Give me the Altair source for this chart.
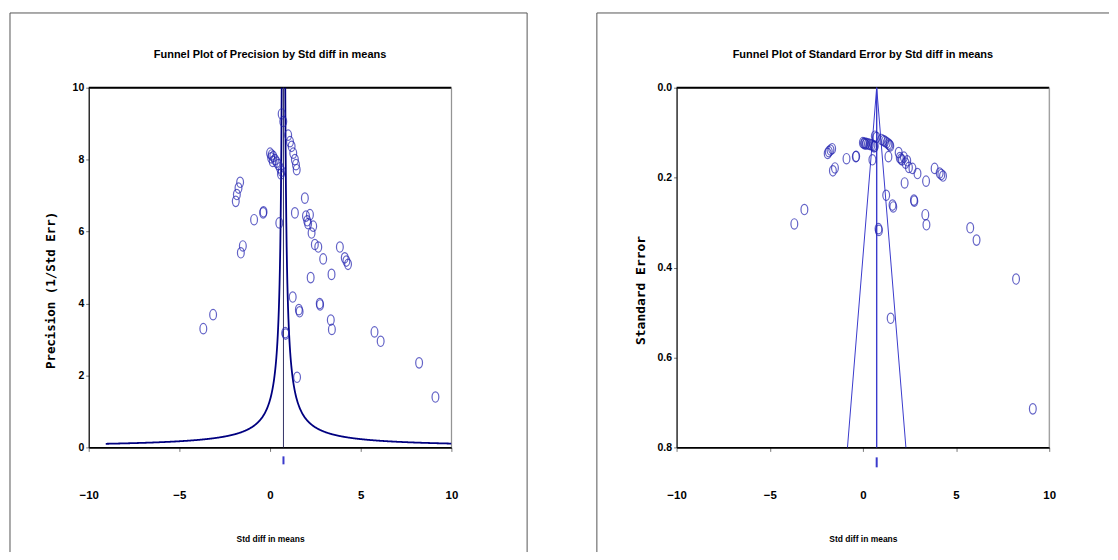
import altair as alt
import pandas as pd

# ---------------- data ----------------
std_diff = [-3.68, -3.14, -1.89, -1.83, -1.74, -1.65, -1.61, -1.50, -0.88, -0.38,
            -0.36, 0.00, 0.06, 0.09, 0.18, 0.15, 0.27, 0.37, 0.46, 0.55,
            0.60, 0.64, 0.51, 0.64, 0.73, 0.84, 0.86, 1.00, 1.10, 1.19,
            1.28, 1.37, 1.43, 1.47, 1.25, 1.37, 1.49, 1.59, 1.63, 1.92,
            1.98, 2.05, 2.10, 2.20, 2.29, 2.38, 2.47, 2.66, 2.93, 2.24,
            2.74, 2.76, 3.35, 3.41, 3.39, 3.85, 4.12, 4.21, 4.30, 5.76,
            6.10, 8.22, 9.12]
precision = [3.30, 3.69, 6.84, 7.03, 7.21, 7.37, 5.41, 5.60, 6.33, 6.52,
             6.55, 8.18, 8.05, 8.13, 8.09, 7.95, 8.00, 7.93, 7.86, 7.77,
             7.60, 7.68, 6.24, 9.27, 9.06, 3.19, 3.15, 8.68, 8.50, 8.37,
             8.18, 8.00, 7.86, 7.72, 4.18, 6.52, 1.95, 3.83, 3.77, 6.93,
             6.43, 6.30, 6.22, 6.47, 5.96, 6.15, 5.64, 5.57, 5.24, 4.72,
             4.00, 3.96, 3.54, 3.28, 4.81, 5.57, 5.27, 5.18, 5.09, 3.21,
             2.95, 2.35, 1.40]
pooled_mean = [0.74]
x_ticks = [-10, -5, 0, 5, 10]
precision_ticks = [0, 2, 4, 6, 8, 10]
se_ticks = [0.0, 0.2, 0.4, 0.6, 0.8]
se_limits = [0.0, 0.8]
panel_titles = ["Funnel Plot of Precision by Std diff in means",
                "Funnel Plot of Standard Error by Std diff in means"]
x_title = "Std diff in means"
y_titles = ["Precision (1/Std Err)", "Standard Error"]

# ---------------- styling ----------------
PT = "#2222b0"
NAVY = "#000080"
LINE = "#3a3acc"
SANS = "Liberation Sans, Arial"
MONO = "DejaVu Sans Mono, Liberation Mono"
ELLIPSE = "M0,-1A0.65,1 0 1,1 0,1A0.65,1 0 1,1 0,-1Z"
PW_L, PW_R, PH = 364, 374, 361

pts = pd.DataFrame({"d": std_diff, "p": precision})
mean_df = pd.DataFrame({"d": pooled_mean})
se_df = pd.DataFrame({"se": se_limits})
one = pd.DataFrame({"k": [0]})


def x_axis():
    return alt.Axis(values=x_ticks, orient="bottom", tickSize=4, tickColor="#777",
                    domainColor="black", domainWidth=1.6, labelPadding=38,
                    labelFont=SANS, labelFontSize=11.5, labelFontWeight="bold",
                    labelColor="black", labelFlush=False, grid=False, title=x_title,
                    titleFont=SANS, titleFontSize=8.5, titleFontWeight="bold",
                    titleColor="black", titleY=91, titleBaseline="middle")


def y_axis(title, values, fmt, tx, tsize):
    return alt.Axis(values=values, orient="left", format=fmt, tickSize=3,
                    tickColor="#777", domainColor="black", domainWidth=1.2,
                    labelPadding=2, labelFont=SANS, labelFontSize=10.5,
                    labelFontWeight="bold", labelColor="black", labelFlush=False,
                    grid=False, title=title, titleFont=MONO, titleFontSize=tsize,
                    titleFontWeight="bold", titleColor="black", titleAngle=270,
                    titleX=tx, titleY=203, titleAlign="center", titleBaseline="middle")


def rule(x, y, x2=None, y2=None, color="#555", width=1):
    enc = dict(x=alt.value(x), y=alt.value(y))
    if x2 is not None:
        enc["x2"] = alt.value(x2)
    if y2 is not None:
        enc["y2"] = alt.value(y2)
    return alt.Chart(one).mark_rule(color=color, strokeWidth=width).encode(**enc)


def title_text(t, cx):
    return alt.Chart(pd.DataFrame({"t": [t]})).mark_text(
        font=SANS, fontSize=11, fontWeight="bold", color="black",
        baseline="middle", align="center").encode(
        text="t:N", x=alt.value(cx), y=alt.value(-33))


# ---------------- left panel ----------------
xs_l = alt.Scale(domain=[-10, 10], nice=False, zero=False)
ys_l = alt.Scale(domain=[0, 10], nice=False, zero=False)
xa_l = x_axis()
ya_l = y_axis(y_titles[0], precision_ticks, "d", -38, 12.5)

left_pts = alt.Chart(pts).mark_point(shape=ELLIPSE, size=110, filled=False,
                                     color=PT, strokeWidth=1.2).encode(
    x=alt.X("d:Q", scale=xs_l, axis=xa_l),
    y=alt.Y("p:Q", scale=ys_l, axis=ya_l))

curve = alt.Chart(alt.sequence(0.1, 10.01, 0.02, as_="se")).transform_calculate(
    p="1 / datum.se", lo=f"{pooled_mean[0]} - 0.98 * datum.se",
    hi=f"{pooled_mean[0]} + 0.98 * datum.se").transform_fold(
    ["lo", "hi"], as_=["side", "d"]).transform_filter(
    "datum.d >= -10 && datum.d <= 10").mark_line(color=NAVY, strokeWidth=1.8).encode(
    x=alt.X("d:Q", scale=xs_l, axis=xa_l),
    y=alt.Y("p:Q", scale=ys_l, axis=ya_l),
    detail="side:N", order="se:Q")

mean_l = alt.Chart(mean_df).mark_rule(color="#333366", strokeWidth=1).encode(
    x=alt.X("d:Q", scale=xs_l, axis=xa_l), y=alt.value(0), y2=alt.value(PH))
marker_l = alt.Chart(mean_df).mark_rule(color=LINE, strokeWidth=2).encode(
    x=alt.X("d:Q", scale=xs_l, axis=xa_l), y=alt.value(370), y2=alt.value(378))

left = alt.layer(
    rule(-79, -75, y2=466), rule(-79, -75, x2=440), rule(440, -75, y2=466),
    title_text(panel_titles[0], 182),
    rule(0, 0, x2=PW_L, color="black", width=2), rule(PW_L, 0, y2=PH, color="#888"),
    curve, mean_l, marker_l, left_pts).properties(width=PW_L, height=PH)

# ---------------- right panel ----------------
xs_r = alt.Scale(domain=[-10, 10], nice=False, zero=False)
ys_r = alt.Scale(domain=[0, 0.8], reverse=True, nice=False, zero=False)
xa_r = x_axis()
ya_r = y_axis(y_titles[1], se_ticks, ".1f", -36, 13)

right_pts = alt.Chart(pts).transform_calculate(se="1 / datum.p").mark_point(
    shape=ELLIPSE, size=110, filled=False, color=PT, strokeWidth=1.2).encode(
    x=alt.X("d:Q", scale=xs_r, axis=xa_r),
    y=alt.Y("se:Q", scale=ys_r, axis=ya_r))

funnel_r = alt.Chart(se_df).transform_calculate(
    lo=f"{pooled_mean[0]} - 1.96 * datum.se",
    hi=f"{pooled_mean[0]} + 1.96 * datum.se").transform_fold(
    ["lo", "hi"], as_=["side", "d"]).mark_line(color=LINE, strokeWidth=1).encode(
    x=alt.X("d:Q", scale=xs_r, axis=xa_r),
    y=alt.Y("se:Q", scale=ys_r, axis=ya_r),
    detail="side:N", order="se:Q")
mean_r = alt.Chart(mean_df).mark_rule(color=LINE, strokeWidth=1.4).encode(
    x=alt.X("d:Q", scale=xs_r, axis=xa_r), y=alt.value(0), y2=alt.value(PH))
marker_r = alt.Chart(mean_df).mark_rule(color=LINE, strokeWidth=2).encode(
    x=alt.X("d:Q", scale=xs_r, axis=xa_r), y=alt.value(371), y2=alt.value(381))

right = alt.layer(
    rule(-80, -75, y2=466), rule(-80, -75, x2=434),
    title_text(panel_titles[1], 187),
    rule(0, 0, x2=PW_R, color="black", width=2), rule(PW_R, 0, y2=PH, color="#888"),
    funnel_r, mean_r, marker_r, right_pts).properties(width=PW_R, height=PH)

chart = alt.hconcat(left, right, spacing=68).properties(
    padding={"left": 1, "top": 3, "right": 0, "bottom": 0}
).configure_view(stroke="transparent").configure(background="white")

chart.save("out.html", embed_options={"renderer": "svg", "actions": False})
